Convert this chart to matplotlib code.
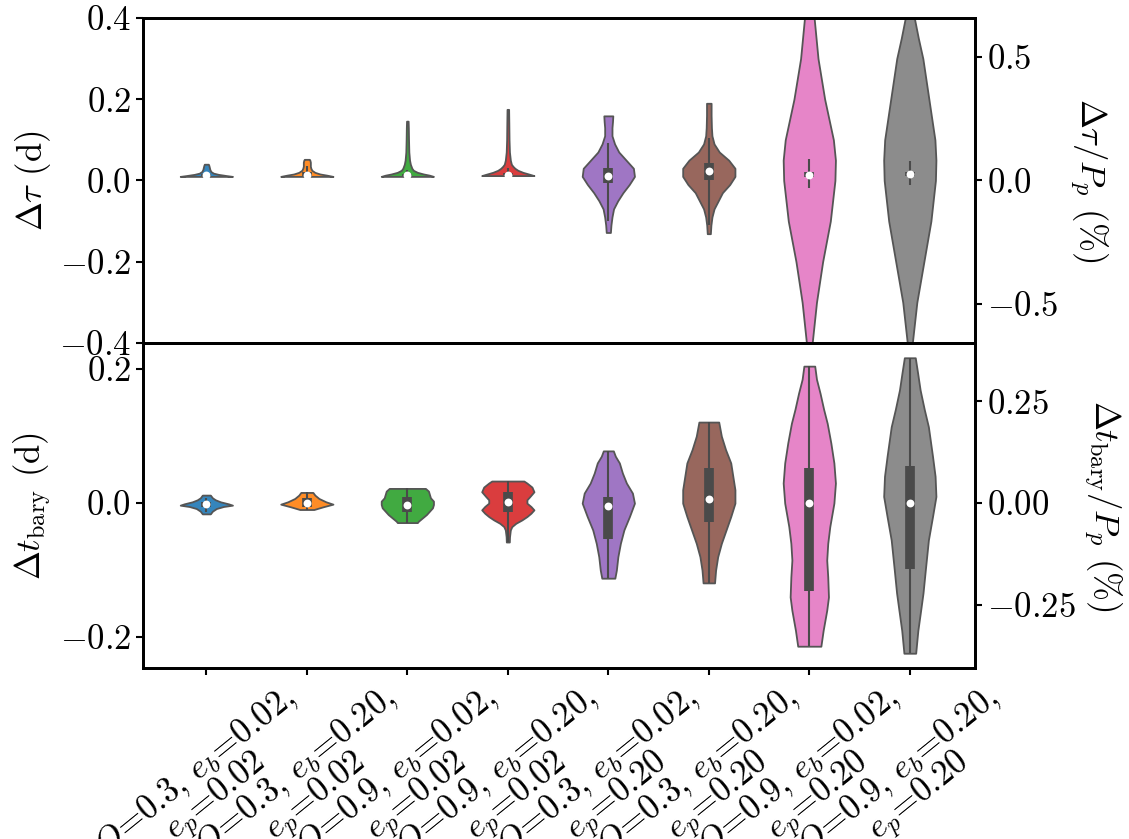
import numpy as np
import matplotlib.pyplot as plt
from matplotlib.colors import to_rgb

plt.rcParams['font.family'] = 'serif'
plt.rcParams['font.serif'] = ['cmr10']
plt.rcParams['mathtext.fontset'] = 'cm'
plt.rcParams['axes.formatter.use_mathtext'] = True

# categories
Q_vals = ['0.3', '0.3', '0.9', '0.9', '0.3', '0.3', '0.9', '0.9']
eb_vals = ['0.02', '0.20', '0.02', '0.20', '0.02', '0.20', '0.02', '0.20']
ep_vals = ['0.02', '0.02', '0.02', '0.02', '0.20', '0.20', '0.20', '0.20']
P_p = 60.8  # days, links left and right scales

# top panel: Delta tau (d), density profiles
tau_coords = [
    [0.010, 0.012, 0.015, 0.018, 0.022, 0.027, 0.032, 0.037, 0.040],
    [0.010, 0.013, 0.016, 0.020, 0.025, 0.030, 0.035, 0.040, 0.045, 0.050, 0.052],
    [0.010, 0.013, 0.016, 0.020, 0.025, 0.030, 0.040, 0.050, 0.070, 0.100, 0.130, 0.146],
    [0.012, 0.015, 0.020, 0.025, 0.030, 0.035, 0.040, 0.050, 0.070, 0.100, 0.140, 0.175],
    [-0.128, -0.11, -0.09, -0.07, -0.05, -0.03, -0.01, 0.01, 0.03, 0.05, 0.07, 0.09, 0.11, 0.13, 0.145, 0.159],
    [-0.131, -0.11, -0.09, -0.07, -0.05, -0.03, -0.01, 0.01, 0.03, 0.05, 0.07, 0.09, 0.11, 0.13, 0.16, 0.19],
    [-0.46, -0.4, -0.3, -0.2, -0.1, 0.0, 0.05, 0.1, 0.2, 0.3, 0.4, 0.46],
    [-0.46, -0.4, -0.3, -0.2, -0.1, 0.0, 0.05, 0.1, 0.2, 0.3, 0.35, 0.4, 0.46],
]
tau_dens = [
    [26, 20, 12, 7, 4.5, 3.5, 3, 2.5, 2],
    [26, 20, 13, 8, 5, 4, 3.5, 3.5, 3.5, 3, 2.5],
    [26, 22, 16, 10, 6, 4.5, 3, 2.2, 1.5, 1.2, 1, 0.8],
    [26, 22, 15, 10, 7, 5, 3.5, 2.5, 1.6, 1.2, 1, 0.8],
    [2, 2.5, 3.5, 5, 9, 14, 20, 25, 24, 17, 10, 6, 3.5, 3.5, 4, 4.3],
    [1.5, 2, 3, 5, 9, 13, 20, 25, 25, 19, 10, 5, 3, 2.5, 2.2, 2.2],
    [2, 2.8, 7, 13, 20.5, 25, 25.5, 23.5, 15, 8.5, 4.7, 3],
    [1.8, 2.5, 7, 14, 21, 25.5, 26, 25, 19, 13, 8.5, 4.5, 2.5],
]
tau_med = [0.013, 0.014, 0.013, 0.014, 0.012, 0.023, 0.014, 0.015]
tau_q1 = [0.012, 0.012, 0.011, 0.013, -0.007, 0.0, 0.009, 0.011]
tau_q3 = [0.016, 0.020, 0.016, 0.019, 0.030, 0.044, 0.020, 0.020]
tau_lo = [0.010, 0.010, 0.010, 0.012, -0.10, -0.11, -0.018, -0.010]
tau_hi = [0.022, 0.035, 0.025, 0.030, 0.091, 0.104, 0.054, 0.049]

# bottom panel: Delta t_bary (d)
bary_coords = [
    [-0.016, -0.012, -0.008, -0.005, -0.003, -0.001, 0.002, 0.005, 0.008, 0.012],
    [-0.0095, -0.0055, -0.0015, 0.002, 0.007, 0.012, 0.016],
    [-0.029, -0.027, -0.022, -0.017, -0.012, -0.007, -0.002, 0.003, 0.008, 0.013, 0.018, 0.022],
    [-0.058, -0.05, -0.04, -0.035, -0.03, -0.025, -0.02, -0.015, -0.01, -0.005, 0.0, 0.005, 0.01, 0.017, 0.024, 0.03, 0.033],
    [-0.112, -0.10, -0.08, -0.06, -0.04, -0.02, 0.0, 0.015, 0.03, 0.045, 0.06, 0.07, 0.078],
    [-0.119, -0.10, -0.08, -0.06, -0.04, -0.02, 0.0, 0.02, 0.04, 0.06, 0.08, 0.10, 0.121],
    [-0.2135, -0.19, -0.16, -0.14, -0.11, -0.085, -0.06, -0.035, 0.0, 0.03, 0.06, 0.09, 0.119, 0.14, 0.164, 0.185, 0.2045],
    [-0.224, -0.19, -0.16, -0.134, -0.1, -0.055, -0.02, 0.01, 0.04, 0.07, 0.114, 0.14, 0.169, 0.195, 0.217],
]
bary_dens = [
    [4, 6, 10, 17, 26, 22, 14, 9, 6, 4],
    [7, 16, 26, 19, 12, 8, 6],
    [10, 11, 15, 19, 22, 25, 26, 26, 23, 22, 21, 18],
    [1.5, 1.7, 2.5, 4, 8, 14, 19, 23, 26, 23, 19, 19, 22, 26, 24, 19, 16],
    [6.5, 8, 9.5, 12, 15.5, 21, 26, 24, 18, 14, 11, 7, 5],
    [5.5, 6.5, 8.5, 12, 16.5, 21, 25, 25, 23, 21, 16, 12, 9.5],
    [11.3, 13.5, 17, 18.7, 18, 17, 18, 20, 24, 25.5, 24, 21, 17.5, 14, 10.5, 7, 5.3],
    [5.7, 7.8, 10.5, 12.8, 15, 18, 22, 25.3, 24.5, 22, 18, 14, 10, 7.5, 5.3],
]
bary_med = [-0.002, 0.0005, -0.003, 0.002, -0.0045, 0.006, -0.0005, 0.0]
bary_q1 = [-0.006, -0.006, -0.013, -0.0125, -0.053, -0.028, -0.131, -0.099]
bary_q3 = [0.002, 0.007, 0.0095, 0.017, 0.0094, 0.053, 0.052, 0.056]
bary_lo = [-0.013, -0.0095, -0.029, -0.058, -0.112, -0.119, -0.2135, -0.224]
bary_hi = [0.008, 0.016, 0.022, 0.033, 0.078, 0.121, 0.2045, 0.217]

colors = ['#1f77b4', '#ff7f0e', '#2ca02c', '#d62728',
          '#9467bd', '#8c564b', '#e377c2', '#7f7f7f']
colors = [tuple(0.9 * np.array(to_rgb(c)) + 0.1) for c in colors]
pos = np.arange(len(Q_vals))


def draw_panel(ax, coords, dens, med, q1, q3, lo, hi):
    stats = []
    for c, d, m in zip(coords, dens, med):
        stats.append(dict(coords=np.array(c), vals=np.array(d, float), mean=m,
                          median=m, min=min(c), max=max(c)))
    parts = ax.violin(stats, positions=pos, widths=0.52, showmeans=False,
                      showextrema=False, showmedians=False)
    for body, col in zip(parts['bodies'], colors):
        body.set_facecolor(col)
        body.set_edgecolor('#555555')
        body.set_linewidth(1.3)
        body.set_alpha(1)
    ax.vlines(pos, lo, hi, color='#4a4a4a', lw=1.5, zorder=2)
    ax.vlines(pos, q1, q3, color='#4a4a4a', lw=7, zorder=2)
    ax.scatter(pos, med, s=32, color='white', zorder=3, linewidths=0)


fig = plt.figure(figsize=(11.29, 8.39), dpi=100)
ax1 = fig.add_axes([0.1267, 0.5912, 0.737, 0.3874])
ax2 = fig.add_axes([0.1267, 0.2038, 0.737, 0.3874], sharex=ax1)

draw_panel(ax1, tau_coords, tau_dens, tau_med, tau_q1, tau_q3, tau_lo, tau_hi)
draw_panel(ax2, bary_coords, bary_dens, bary_med, bary_q1, bary_q3, bary_lo, bary_hi)

ax1.set_xlim(-0.63, 7.65)
ax1.set_ylim(-0.4, 0.4)
ax1.set_yticks([-0.4, -0.2, 0.0, 0.2, 0.4])
ax2.set_yticks([-0.2, 0.0, 0.2])
ax1.tick_params(axis='x', bottom=False, labelbottom=False)

labels = ['$Q$=%s, $e_b$=%s,\n$e_p$=%s' % (q, b, p)
          for q, b, p in zip(Q_vals, eb_vals, ep_vals)]
ax2.set_xticks(pos)
ax2.set_xticklabels(labels, rotation=39, fontsize=25, linespacing=0.85)

ax1.set_ylabel(r'$\Delta\tau$ (d)', fontsize=25)
ax2.set_ylabel(r'$\Delta t_{\rm bary}$ (d)', fontsize=25)

for ax, lab, pad, ticks in [(ax1, r'$\Delta\tau/P_p$ (%)', 6, [-0.5, 0.0, 0.5]),
                            (ax2, r'$\Delta t_{\rm bary}/P_p$ (%)', 4, [-0.25, 0.0, 0.25])]:
    tw = ax.twinx()
    tw.set_ylim(np.array(ax.get_ylim()) * 100 / P_p)
    tw.set_yticks(ticks)
    tw.set_ylabel(lab, fontsize=25, rotation=270, va='bottom', labelpad=pad)
    tw.tick_params(labelsize=25, direction='out', length=5, width=1.5)
    for s in tw.spines.values():
        s.set_linewidth(2)

for ax in (ax1, ax2):
    ax.tick_params(labelsize=25, direction='out', length=5, width=1.5)
    for s in ax.spines.values():
        s.set_linewidth(2)

fig.savefig('out.png', dpi=100)
